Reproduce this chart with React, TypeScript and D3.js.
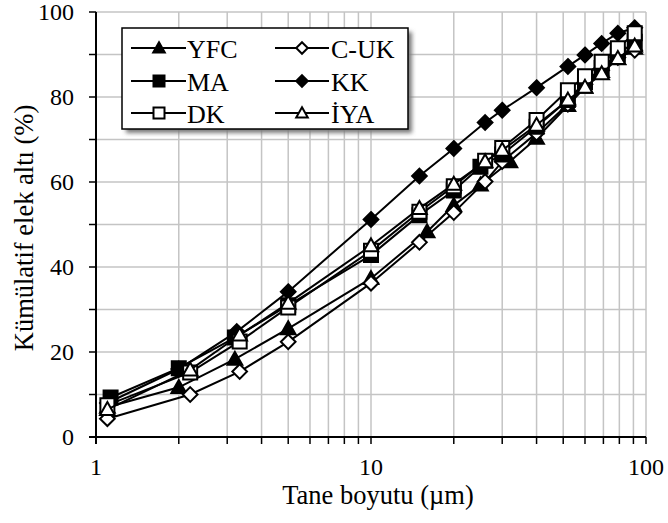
import React from "react";
import * as d3 from "d3";

const W = 668;
const H = 523;
const PLOT = { left: 96, right: 646, top: 12, bottom: 437 };

// Particle size (µm) and cumulative passing (%) for each sample
const sizesYFC = [1.1, 2.0, 3.2, 5, 10, 16, 20, 25, 32, 40, 52, 60, 69, 79, 91];
const passYFC = [7.0, 11.7, 18.3, 25.5, 37.3, 48.3, 54.5, 59.3, 64.8, 70.3, 78.0, 82.3, 86.0, 89.0, 91.5];

const sizesCUK = [1.1, 2.2, 3.33, 5, 10, 15, 20, 26, 30, 40, 52, 60, 69, 79, 91];
const passCUK = [4.3, 10.0, 15.4, 22.4, 36.2, 45.8, 52.8, 60.1, 64.8, 71.5, 78.3, 83.0, 86.3, 89.3, 91.0];

const sizesMA = [1.13, 2.0, 3.2, 5, 10, 15, 20, 25, 30, 40, 52, 60, 69, 79, 91];
const passMA = [9.3, 16.2, 23.4, 31.0, 42.8, 52.2, 58.0, 63.6, 66.5, 73.0, 79.3, 83.5, 86.8, 90.0, 93.0];

const sizesKK = [1.1, 2.0, 3.25, 5, 10, 15, 20, 26, 30, 40, 52, 60, 69, 79, 91];
const passKK = [8.0, 16.0, 24.8, 34.2, 51.2, 61.4, 67.9, 74.0, 76.9, 82.2, 87.2, 89.9, 92.6, 95.0, 96.3];

const sizesDK = [1.1, 2.2, 3.33, 5, 10, 15, 20, 26, 30, 40, 52, 60, 69, 79, 91];
const passDK = [7.5, 15.2, 22.5, 30.5, 43.8, 53.0, 59.0, 65.0, 68.0, 74.6, 81.6, 84.9, 88.3, 91.5, 95.0];

const sizesIYA = [1.1, 2.2, 3.33, 5, 10, 15, 20, 26, 30, 40, 52, 60, 69, 79, 91];
const passIYA = [6.5, 15.8, 24.0, 31.5, 45.0, 53.8, 59.5, 64.8, 67.5, 73.4, 79.3, 82.3, 85.5, 89.1, 92.0];

const legendNames = ["YFC", "C-UK", "MA", "KK", "DK", "İYA"];
const xTickLabels = [1, 10, 100];
const yTickLabels = [0, 20, 40, 60, 80, 100];

type Marker = "triUp" | "square" | "diamond";

const series: { name: string; xs: number[]; ys: number[]; marker: Marker; filled: boolean }[] = [
  { name: legendNames[0], xs: sizesYFC, ys: passYFC, marker: "triUp", filled: true },
  { name: legendNames[1], xs: sizesCUK, ys: passCUK, marker: "diamond", filled: false },
  { name: legendNames[2], xs: sizesMA, ys: passMA, marker: "square", filled: true },
  { name: legendNames[3], xs: sizesKK, ys: passKK, marker: "diamond", filled: true },
  { name: legendNames[4], xs: sizesDK, ys: passDK, marker: "square", filled: false },
  { name: legendNames[5], xs: sizesIYA, ys: passIYA, marker: "triUp", filled: false },
];

const FONT = "'Liberation Serif', 'Times New Roman', serif";

function markerPath(m: Marker, s: number): string {
  const h = s / 2;
  if (m === "square") return `M${-h},${-h}H${h}V${h}H${-h}Z`;
  if (m === "diamond") return `M0,${-h * 1.05}L${h * 1.05},0L0,${h * 1.05}L${-h * 1.05},0Z`;
  return `M0,${-h * 1.05}L${h * 1.05},${h * 0.8}L${-h * 1.05},${h * 0.8}Z`;
}

function MarkerShape({ m, filled, x, y, size }: { m: Marker; filled: boolean; x: number; y: number; size: number }) {
  return (
    <path
      d={markerPath(m, size)}
      transform={`translate(${x},${y})`}
      fill={filled ? "#000" : "#fff"}
      stroke="#000"
      strokeWidth={2}
      strokeLinejoin="miter"
    />
  );
}

export default function App() {
  const x = d3.scaleLog().domain([1, 100]).range([PLOT.left, PLOT.right]);
  const y = d3.scaleLinear().domain([0, 100]).range([PLOT.bottom, PLOT.top]);

  const minorX: number[] = [];
  for (const dec of [1, 10]) for (let k = 1; k <= 9; k++) minorX.push(dec * k);
  minorX.push(100);
  const gridY = d3.range(0, 101, 10);

  const line = d3
    .line<[number, number]>()
    .x((d) => x(d[0]))
    .y((d) => y(d[1]));

  const legendRowY = [48, 81, 113];
  const legendCols = [
    { lineX0: 131, lineX1: 186, markX: 159, textX: 187 },
    { lineX0: 275, lineX1: 329, markX: 302, textX: 331 },
  ];

  return (
    <svg width={W} height={H} style={{ position: "absolute", left: 0, top: 0, background: "#fff" }}>
      <defs>
        <filter id="shadow" x="-10%" y="-10%" width="130%" height="140%">
          <feGaussianBlur stdDeviation="2" />
        </filter>
      </defs>
      <rect width={W} height={H} fill="#fff" />

      {/* grid */}
      {minorX.map((v) => (
        <line key={`gx${v}`} x1={x(v)} x2={x(v)} y1={PLOT.top} y2={PLOT.bottom} stroke="#c4c4c4" strokeWidth={1.5} />
      ))}
      {gridY.map((v) => (
        <line key={`gy${v}`} x1={PLOT.left} x2={PLOT.right} y1={y(v)} y2={y(v)} stroke="#c4c4c4" strokeWidth={1.5} />
      ))}

      {/* axes */}
      <line x1={PLOT.left} x2={PLOT.left} y1={PLOT.top} y2={PLOT.bottom + 7} stroke="#000" strokeWidth={2} />
      <line x1={PLOT.left - 7} x2={PLOT.right} y1={PLOT.bottom} y2={PLOT.bottom} stroke="#000" strokeWidth={2} />
      {gridY.map((v) => (
        <line key={`ty${v}`} x1={PLOT.left - 7} x2={PLOT.left} y1={y(v)} y2={y(v)} stroke="#000" strokeWidth={1.5} />
      ))}
      {minorX.map((v) => (
        <line key={`tx${v}`} x1={x(v)} x2={x(v)} y1={PLOT.bottom} y2={PLOT.bottom + 7} stroke="#000" strokeWidth={1.5} />
      ))}

      {yTickLabels.map((v) => (
        <text key={`ly${v}`} x={74} y={y(v)} textAnchor="end" dominantBaseline="central" fontFamily={FONT} fontSize={24}>
          {v}
        </text>
      ))}
      {xTickLabels.map((v) => (
        <text key={`lx${v}`} x={x(v)} y={475} textAnchor="middle" fontFamily={FONT} fontSize={24}>
          {v}
        </text>
      ))}

      <text x={378} y={504} textAnchor="middle" fontFamily={FONT} fontSize={26.5}>
        Tane boyutu (µm)
      </text>
      <text
        transform={`translate(33,228) rotate(-90)`}
        textAnchor="middle"
        fontFamily={FONT}
        fontSize={26.5}
      >
        Kümülatif elek altı (%)
      </text>

      {/* series */}
      {series.map((s) => {
        const pts = s.xs.map((v, i) => [v, s.ys[i]] as [number, number]);
        return (
          <g key={s.name}>
            <path d={line(pts) || ""} fill="none" stroke="#000" strokeWidth={2} />
            {pts.map((p, i) => (
              <MarkerShape key={i} m={s.marker} filled={s.filled} x={x(p[0])} y={y(p[1])} size={14} />
            ))}
          </g>
        );
      })}

      {/* legend */}
      <rect x={126} y={32} width={286} height={101} fill="#7a7a7a" filter="url(#shadow)" />
      <rect x={122} y={28} width={286} height={101} fill="#fff" stroke="#000" strokeWidth={1.5} />
      {series.map((s, i) => {
        const col = legendCols[i % 2];
        const ly = legendRowY[Math.floor(i / 2)];
        return (
          <g key={`leg${s.name}`}>
            <line x1={col.lineX0} x2={col.lineX1} y1={ly} y2={ly} stroke="#000" strokeWidth={2} />
            <MarkerShape m={s.marker} filled={s.filled} x={col.markX} y={ly} size={11} />
            <text x={col.textX} y={ly + 1} dominantBaseline="central" fontFamily={FONT} fontSize={26}>
              {s.name}
            </text>
          </g>
        );
      })}
    </svg>
  );
}
